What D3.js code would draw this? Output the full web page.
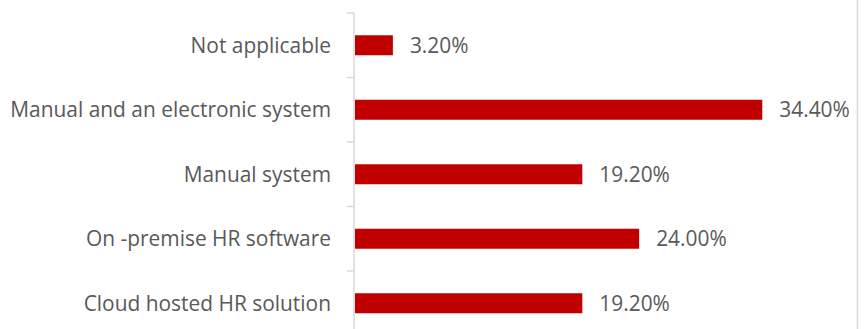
<!DOCTYPE html>
<html>
<head>
<meta charset="utf-8">
<script src="https://cdn.jsdelivr.net/npm/d3@7"></script>
<style>
  html, body { margin: 0; padding: 0; background: #fff; }
  svg { display: block; }
</style>
</head>
<body>
<svg id="chart" width="864" height="329"></svg>
<script>
const categories = [
  "Not applicable",
  "Manual and an electronic system",
  "Manual system",
  "On -premise HR software",
  "Cloud hosted HR solution"
];
const values = [3.2, 34.4, 19.2, 24.0, 19.2];
const valueLabels = ["3.20%", "34.40%", "19.20%", "24.00%", "19.20%"];

const W = 864, H = 329;
const svg = d3.select("#chart");
const fontFamily = "'Open Sans', 'Liberation Sans', sans-serif";
const textColor = "#595959";

const y = d3.scaleBand()
  .domain(categories)
  .range([13, 335.5])
  .paddingInner(0.69)
  .paddingOuter(0.345);

const x = d3.scaleLinear().domain([0, 43]).range([355, 864.1]);

// font size calibration so the longest label matches the reference width
const probe = svg.append("text").attr("font-family", fontFamily).attr("font-size", 20)
  .text("Manual and an electronic system");
const w20 = probe.node().getComputedTextLength();
probe.remove();
const fs = 20 * 321 / w20;

// right border
svg.append("line")
  .attr("x1", 857.5).attr("x2", 857.5).attr("y1", 0).attr("y2", H)
  .attr("stroke", "#d9d9d9").attr("stroke-width", 1.5);

// axis line
const axisX = 354;
svg.append("line")
  .attr("x1", axisX).attr("x2", axisX).attr("y1", 13).attr("y2", H)
  .attr("stroke", "#d9d9d9").attr("stroke-width", 1.5);

// ticks at band boundaries
const step = y.step();
const boundaries = d3.range(categories.length + 1).map(i => 13 + i * step);
svg.selectAll("line.tick").data(boundaries).enter().append("line")
  .attr("class", "tick")
  .attr("x1", axisX - 7).attr("x2", axisX)
  .attr("y1", d => d).attr("y2", d => d)
  .attr("stroke", "#d9d9d9").attr("stroke-width", 1.5);

// category labels
svg.selectAll("text.cat").data(categories).enter().append("text")
  .attr("class", "cat")
  .attr("x", 331)
  .attr("y", d => y(d) + y.bandwidth() / 2)
  .attr("dy", "0.36em")
  .attr("text-anchor", "end")
  .attr("font-family", fontFamily)
  .attr("font-size", fs)
  .attr("fill", textColor)
  .text(d => d);

// bars
svg.selectAll("rect.bar").data(values).enter().append("rect")
  .attr("class", "bar")
  .attr("x", x(0))
  .attr("y", (d, i) => y(categories[i]))
  .attr("width", d => x(d) - x(0))
  .attr("height", y.bandwidth())
  .attr("fill", "#c00000");

// value labels
svg.selectAll("text.val").data(values).enter().append("text")
  .attr("class", "val")
  .attr("x", d => x(d) + 17)
  .attr("y", (d, i) => y(categories[i]) + y.bandwidth() / 2)
  .attr("dy", "0.36em")
  .attr("font-family", fontFamily)
  .attr("font-size", fs)
  .attr("fill", textColor)
  .text((d, i) => valueLabels[i]);
</script>
</body>
</html>
